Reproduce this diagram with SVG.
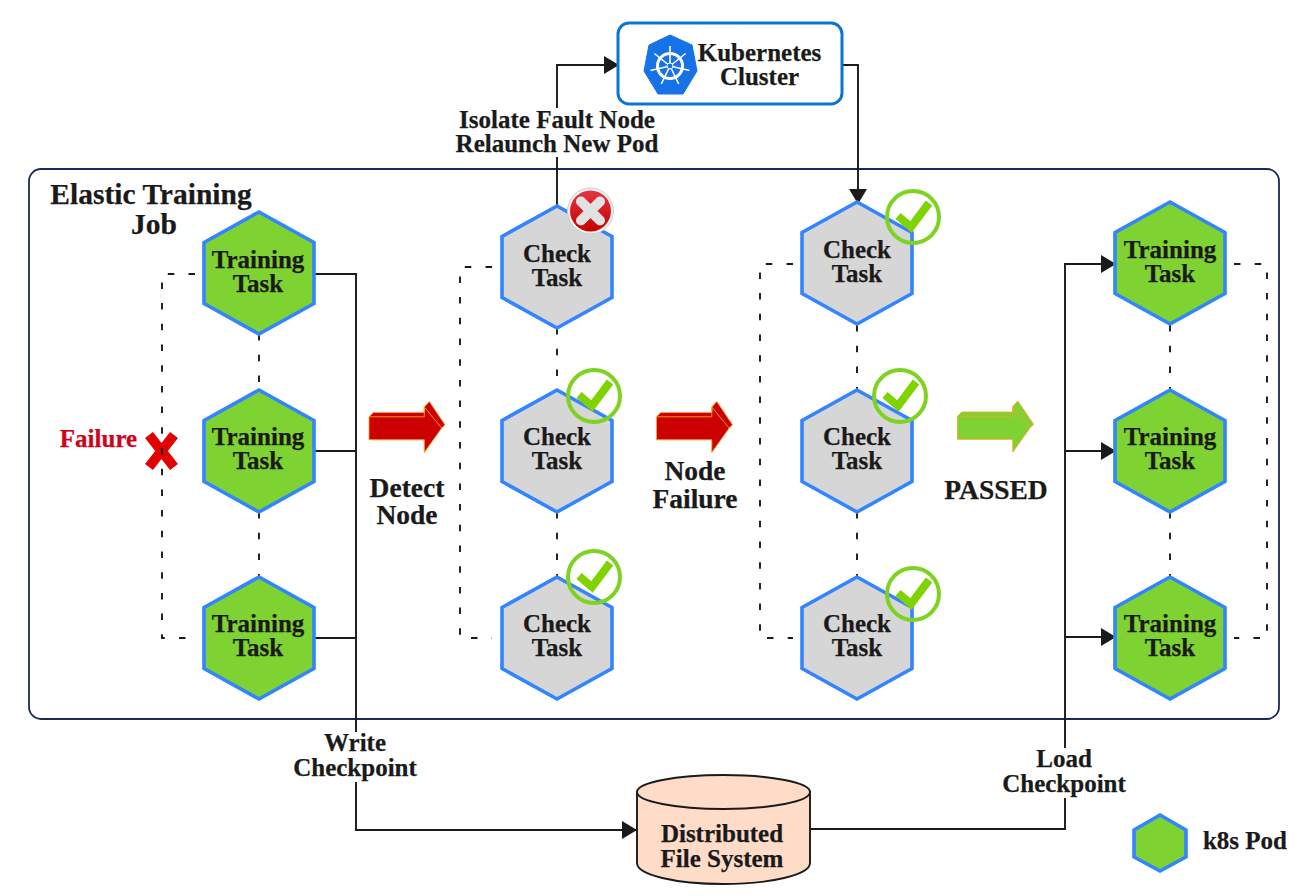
<svg xmlns="http://www.w3.org/2000/svg" width="1314" height="896" viewBox="0 0 1314 896">
<style>
text{font-family:"Liberation Serif","Times New Roman",serif;font-weight:700;fill:#1a1a1a;text-anchor:middle;stroke:#1a1a1a;stroke-width:.25}
.t25{font-size:25px}
.t27{font-size:27.500px}
.t30{font-size:29.500px}
.hex{stroke:#3284ff;stroke-width:3.600;stroke-linejoin:miter}
.g{fill:#7ed232}
.c{fill:#d6d6d6}
.ln{fill:none;stroke:#1a1a1a;stroke-width:1.900}
.dash{fill:none;stroke:#1a1a1a;stroke-width:1.900;stroke-dasharray:6.500 14.200}
.ok{fill:none;stroke:#7ed321;stroke-width:4}
.tick{fill:none;stroke:#7ed300;stroke-width:8;stroke-linejoin:miter}
.mask{fill:#fff}
.edge{stroke:#f5a623;stroke-width:.9}
</style>
<defs>
<polygon id="hx" points="0,-61 55,-30.500 55,30.500 0,61 -55,30.500 -55,-30.500"/>
<marker id="ah" markerUnits="userSpaceOnUse" markerWidth="16" markerHeight="18" refX="15" refY="9" orient="auto"><path d="M0,0L15,9L0,18Z" fill="#1a1a1a"/></marker>
<g id="chk"><circle r="26" class="ok"/><path class="tick" d="M-15,-1L-2,10L16,-14"/></g>
<g id="bigarrow"><path class="edge" d="M0,15.300L4.300,11H55.300V5.600L60.300,0L76,23.300L72.700,26.600L55.300,51V38.300H0Z"/><path class="edge" fill="none" d="M0,15.300H55.300V5.600M55.300,5.600L72.700,26.600"/></g>
<linearGradient id="red" x1="0" y1="0" x2="0" y2="1"><stop offset="0" stop-color="#e63444"/><stop offset="1" stop-color="#c40000"/></linearGradient>
</defs>
<rect width="1314" height="896" fill="#fff"/>
<rect id="job" x="29" y="169" width="1250" height="550" rx="12" fill="#fff" stroke="#1c2a5a" stroke-width="1.800"/>
<text class="t30"><tspan x="151" y="204">Elastic Training</tspan><tspan x="154" y="234">Job</tspan></text>

<g id="failure">
<text class="t25" x="98.500" y="447" style="fill:#d0021b;stroke:#d0021b">Failure</text>
<path d="M149,435L174,467M174,435L149,467" stroke="#e00000" stroke-width="10" fill="none"/>
</g>

<g id="connectors">
<path class="dash" d="M195,274H162V638H195"/>
<path class="dash" d="M492,267H460V638H492"/>
<path class="dash" d="M793,264H760V638H793"/>
<path class="dash" d="M1234,264H1267V638H1234"/>
<path class="dash" d="M259,334V390M259,512V577"/>
<path class="dash" d="M557,328V390M557,512V577"/>
<path class="dash" d="M857,325V390M857,512V577"/>
<path class="dash" d="M1170,325V390M1170,512V577"/>
<path class="ln" d="M315,274H356V830H637" marker-end="url(#ah)"/>
<path class="ln" d="M315,451H356M315,638H356"/>
<path class="ln" d="M557,206V65H619" marker-end="url(#ah)"/>
<path class="ln" d="M843,65H858V204" marker-end="url(#ah)"/>
<path class="ln" d="M810,829H1065V264H1116" marker-end="url(#ah)"/>
<path class="ln" d="M1065,451H1116" marker-end="url(#ah)"/>
<path class="ln" d="M1065,637H1116" marker-end="url(#ah)"/>
</g>

<g id="k8s">
<rect x="618" y="23" width="224" height="81" rx="11" fill="#fff" stroke="#0a76d0" stroke-width="3"/>
<path d="M670,35L692,45L697,71L683,94H658L644,71L649,45Z" fill="#1672e6" stroke="#1672e6" stroke-linejoin="round"/>
<g fill="none" stroke="#fff" transform="translate(670,66)">
<circle r="12.500" stroke-width="3"/>
<path stroke-width="1.600" d="M0,0V-20M0,0L15.600,-12.500M0,0L19.500,4.500M0,0L8.700,18M0,0L-8.700,18M0,0L-19.500,4.500M0,0L-15.600,-12.500"/>
<circle r="3" fill="#1672e6" stroke="#fff" stroke-width="1"/>
</g>
<text class="t25"><tspan x="759.500" y="61">Kubernetes</tspan><tspan x="759.500" y="85">Cluster</tspan></text>
</g>

<g id="label-isolate">
<rect x="458" y="108" width="198" height="49" class="mask"/>
<text class="t25"><tspan x="557" y="128">Isolate Fault Node</tspan><tspan x="557" y="152">Relaunch New Pod</tspan></text>
</g>

<g id="t1"><use href="#hx" x="259" y="273" class="hex g"/><text class="t25"><tspan x="258" y="268">Training</tspan><tspan x="258" y="292">Task</tspan></text></g>
<g id="t2"><use href="#hx" x="259" y="451" class="hex g"/><text class="t25"><tspan x="258" y="445">Training</tspan><tspan x="258" y="469">Task</tspan></text></g>
<g id="t3"><use href="#hx" x="259" y="638" class="hex g"/><text class="t25"><tspan x="258" y="632">Training</tspan><tspan x="258" y="656">Task</tspan></text></g>

<g id="c1"><use href="#hx" x="557" y="267" class="hex c"/><text class="t25"><tspan x="557" y="262">Check</tspan><tspan x="557" y="286">Task</tspan></text></g>
<g id="c2"><use href="#hx" x="557" y="451" class="hex c"/><text class="t25"><tspan x="557" y="445">Check</tspan><tspan x="557" y="469">Task</tspan></text></g>
<g id="c3"><use href="#hx" x="557" y="638" class="hex c"/><text class="t25"><tspan x="557" y="632">Check</tspan><tspan x="557" y="656">Task</tspan></text></g>

<g id="d1"><use href="#hx" x="857" y="263" class="hex c"/><text class="t25"><tspan x="857" y="258">Check</tspan><tspan x="857" y="282">Task</tspan></text></g>
<g id="d2"><use href="#hx" x="857" y="451" class="hex c"/><text class="t25"><tspan x="857" y="445">Check</tspan><tspan x="857" y="469">Task</tspan></text></g>
<g id="d3"><use href="#hx" x="857" y="638" class="hex c"/><text class="t25"><tspan x="857" y="632">Check</tspan><tspan x="857" y="656">Task</tspan></text></g>

<g id="e1"><use href="#hx" x="1170" y="263" class="hex g"/><text class="t25"><tspan x="1170" y="258">Training</tspan><tspan x="1170" y="282">Task</tspan></text></g>
<g id="e2"><use href="#hx" x="1170" y="451" class="hex g"/><text class="t25"><tspan x="1170" y="445">Training</tspan><tspan x="1170" y="469">Task</tspan></text></g>
<g id="e3"><use href="#hx" x="1170" y="638" class="hex g"/><text class="t25"><tspan x="1170" y="632">Training</tspan><tspan x="1170" y="656">Task</tspan></text></g>

<g id="badges">
<circle cx="590.500" cy="211" r="23" fill="#f2f2f2" stroke="#ccc" stroke-width="1"/>
<circle cx="590.500" cy="211" r="20.500" fill="url(#red)"/>
<path d="M581,201.500L600,220.500M600,201.500L581,220.500" stroke="#e2e2e2" stroke-width="10" stroke-linecap="round" fill="none"/>
<use href="#chk" x="594" y="396"/>
<use href="#chk" x="594" y="577"/>
<use href="#chk" x="913" y="217"/>
<use href="#chk" x="900" y="396"/>
<use href="#chk" x="913" y="594"/>
</g>

<use id="a1" href="#bigarrow" x="369" y="401.500" fill="#cc0000"/>
<use id="a2" href="#bigarrow" x="656.500" y="401.500" fill="#cc0000"/>
<use id="a3" href="#bigarrow" x="957.500" y="401" fill="#7ed232"/>
<text class="t27"><tspan x="407" y="497">Detect</tspan><tspan x="407" y="524">Node</tspan></text>
<text class="t27"><tspan x="695" y="480">Node</tspan><tspan x="695" y="508">Failure</tspan></text>
<text class="t27" x="996" y="499">PASSED</text>

<g id="label-write"><rect x="296" y="732" width="120" height="50" class="mask"/>
<text class="t25"><tspan x="355" y="751">Write</tspan><tspan x="355" y="776">Checkpoint</tspan></text></g>
<g id="label-load"><rect x="1004" y="748" width="122" height="50" class="mask"/>
<text class="t25"><tspan x="1064" y="767">Load</tspan><tspan x="1064" y="792">Checkpoint</tspan></text></g>

<g id="dfs">
<path d="M637,792V863C637,875 676,884 723,884C770,884 810,875 810,863V792Z" fill="#ffdcc8" stroke="#1a1a1a" stroke-width="1.900"/>
<ellipse cx="723.500" cy="792" rx="86.500" ry="17" fill="#ffdcc8" stroke="#1a1a1a" stroke-width="1.900"/>
<text class="t25"><tspan x="722" y="842">Distributed</tspan><tspan x="722" y="867">File System</tspan></text>
</g>

<g id="legend">
<polygon points="1160,815 1186,830 1186,857 1160,871 1134,857 1134,830" class="hex g"/>
<text class="t25" x="1245" y="849">k8s Pod</text>
</g>
</svg>
